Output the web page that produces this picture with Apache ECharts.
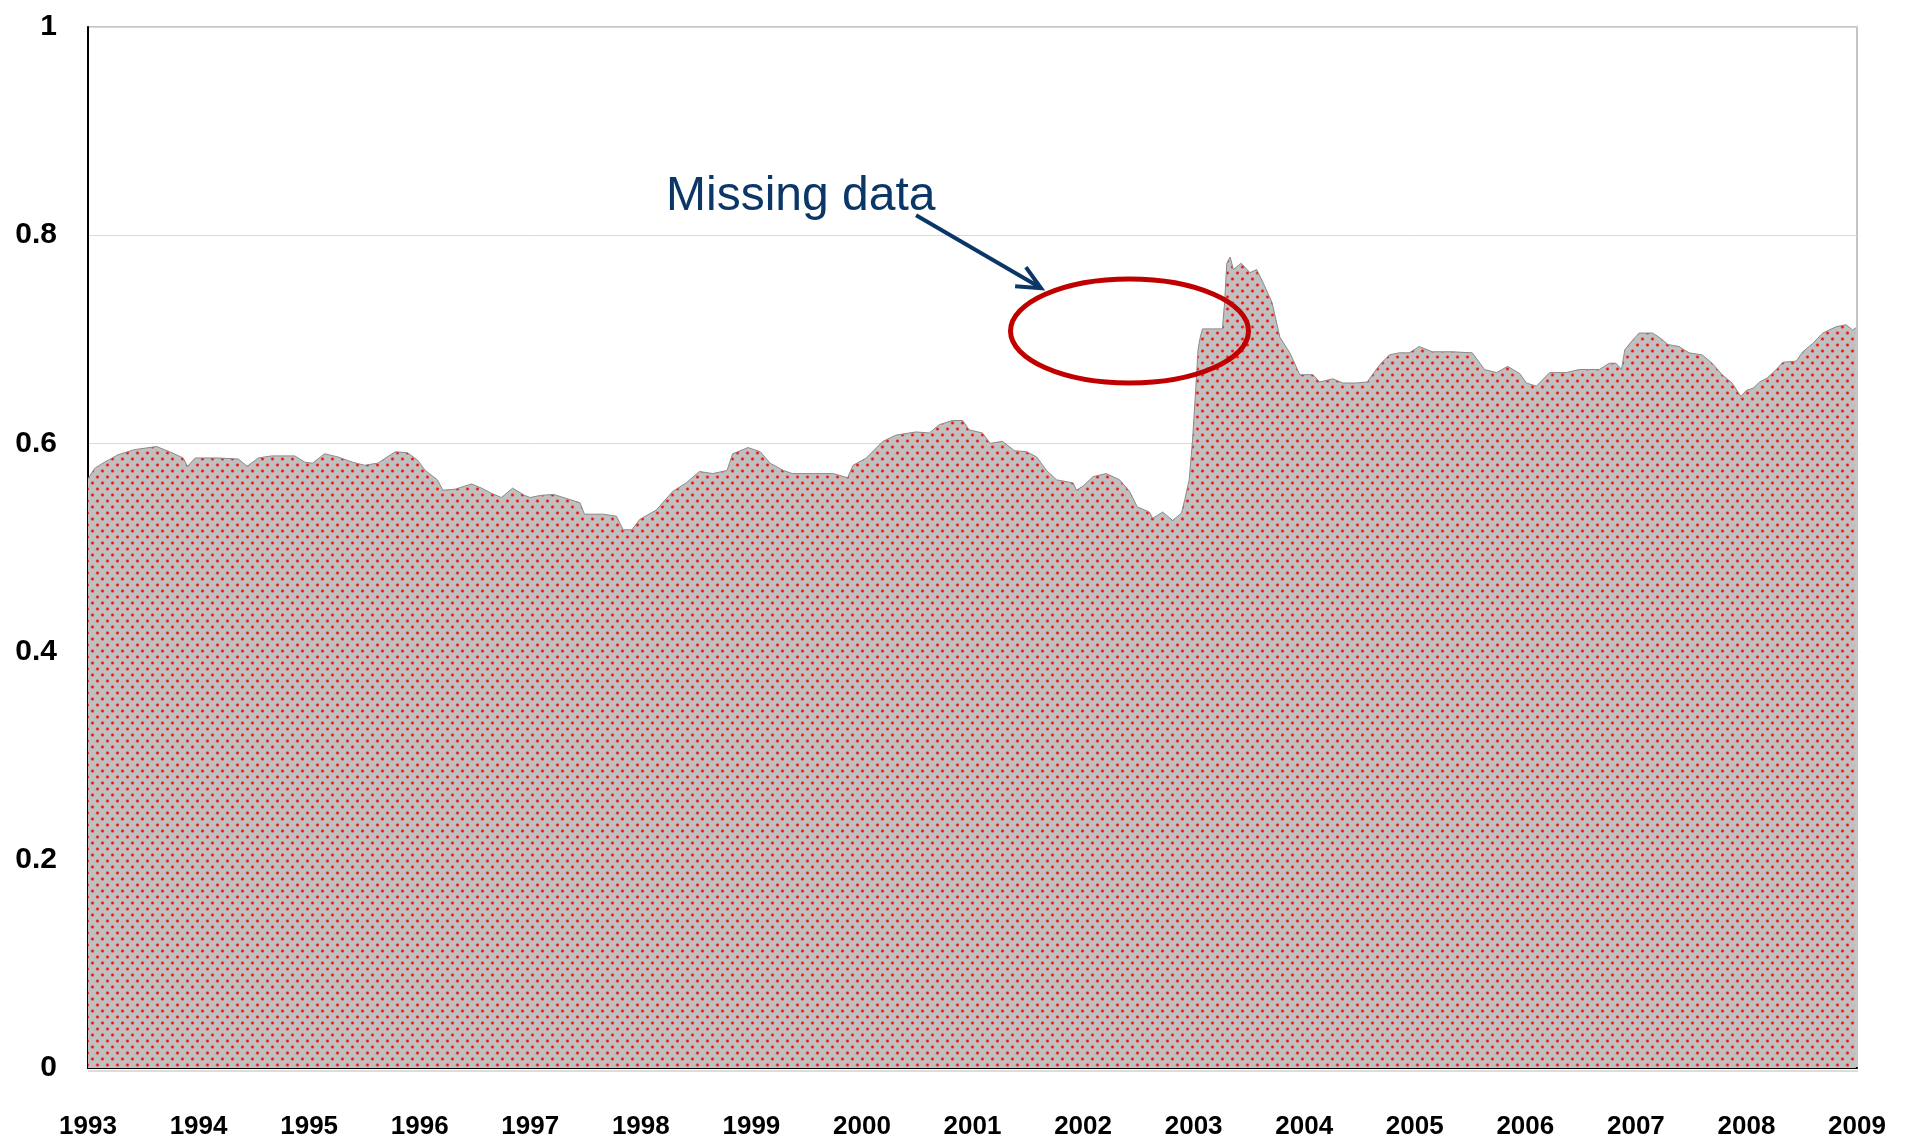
<!DOCTYPE html>
<html>
<head>
<meta charset="utf-8">
<script src="https://cdn.jsdelivr.net/npm/echarts@6/dist/echarts.min.js"></script>
<style>
  html, body { margin: 0; padding: 0; background: #fff; }
  #chart { width: 1907px; height: 1143px; }
</style>
</head>
<body>
<div id="chart"></div>
<script>
// time (decimal year) and value of the series
var years = [
  1993.00, 1993.06, 1993.15, 1993.27, 1993.42, 1993.62, 1993.76, 1993.86, 1993.90, 1993.97,
  1994.18, 1994.36, 1994.44, 1994.54, 1994.66, 1994.87, 1994.96, 1995.03, 1995.14, 1995.26,
  1995.39, 1995.50, 1995.62, 1995.78, 1995.89, 1995.98, 1996.05, 1996.16, 1996.21, 1996.32,
  1996.47, 1996.56, 1996.65, 1996.74, 1996.84, 1996.95, 1997.00, 1997.09, 1997.21, 1997.36,
  1997.45, 1997.49, 1997.66, 1997.78, 1997.84, 1997.92, 1997.99, 1998.14, 1998.29, 1998.41,
  1998.53, 1998.65, 1998.78, 1998.83, 1998.97, 1999.08, 1999.17, 1999.29, 1999.37, 1999.56,
  1999.74, 1999.87, 1999.92, 2000.04, 2000.19, 2000.31, 2000.49, 2000.61, 2000.70, 2000.82,
  2000.91, 2000.97, 2001.09, 2001.16, 2001.27, 2001.38, 2001.49, 2001.58, 2001.67, 2001.76,
  2001.91, 2001.94, 2002.00, 2002.09, 2002.21, 2002.33, 2002.42, 2002.49, 2002.60, 2002.63,
  2002.72, 2002.81, 2002.89, 2002.92, 2002.96, 2002.99, 2003.02, 2003.04, 2003.06, 2003.08,
  2003.26, 2003.28, 2003.30, 2003.33, 2003.36, 2003.43, 2003.51, 2003.57, 2003.63, 2003.71,
  2003.78, 2003.87, 2003.96, 2004.08, 2004.14, 2004.26, 2004.35, 2004.47, 2004.57, 2004.68,
  2004.77, 2004.86, 2004.95, 2005.04, 2005.16, 2005.34, 2005.52, 2005.59, 2005.63, 2005.74,
  2005.84, 2005.95, 2006.01, 2006.10, 2006.22, 2006.37, 2006.49, 2006.67, 2006.76, 2006.82,
  2006.87, 2006.90, 2006.97, 2007.03, 2007.15, 2007.21, 2007.29, 2007.39, 2007.48, 2007.60,
  2007.69, 2007.78, 2007.87, 2007.95, 2008.00, 2008.06, 2008.12, 2008.19, 2008.27, 2008.33,
  2008.45, 2008.51, 2008.60, 2008.69, 2008.81, 2008.90, 2008.96, 2008.99
];
var values = [
  0.566, 0.576, 0.582, 0.589, 0.594, 0.597, 0.591, 0.586, 0.578, 0.586,
  0.586, 0.585, 0.578, 0.586, 0.588, 0.588, 0.582, 0.581, 0.590, 0.587,
  0.582, 0.579, 0.581, 0.592, 0.591, 0.584, 0.574, 0.565, 0.555, 0.556,
  0.561, 0.557, 0.552, 0.548, 0.557, 0.550, 0.548, 0.550, 0.551, 0.546,
  0.543, 0.532, 0.532, 0.530, 0.517, 0.517, 0.527, 0.536, 0.554, 0.562,
  0.573, 0.571, 0.574, 0.590, 0.596, 0.592, 0.581, 0.574, 0.571, 0.571,
  0.571, 0.567, 0.579, 0.586, 0.602, 0.608, 0.611, 0.610, 0.618, 0.622,
  0.622, 0.613, 0.610, 0.600, 0.602, 0.593, 0.592, 0.587, 0.574, 0.565,
  0.562, 0.555, 0.559, 0.568, 0.571, 0.565, 0.554, 0.539, 0.534, 0.528,
  0.534, 0.526, 0.533, 0.546, 0.565, 0.603, 0.654, 0.690, 0.702, 0.710,
  0.710, 0.735, 0.773, 0.779, 0.767, 0.773, 0.764, 0.767, 0.754, 0.735,
  0.702, 0.687, 0.666, 0.666, 0.659, 0.662, 0.658, 0.658, 0.659, 0.675,
  0.685, 0.687, 0.687, 0.693, 0.688, 0.688, 0.687, 0.677, 0.671, 0.668,
  0.674, 0.667, 0.658, 0.655, 0.668, 0.668, 0.671, 0.671, 0.677, 0.677,
  0.671, 0.690, 0.699, 0.706, 0.706, 0.702, 0.695, 0.693, 0.687, 0.685,
  0.677, 0.666, 0.658, 0.645, 0.651, 0.653, 0.659, 0.663, 0.671, 0.678,
  0.679, 0.688, 0.696, 0.706, 0.712, 0.714, 0.709, 0.711
];
var annotationText = 'Missing data';

var seriesData = years.map(function (y, i) { return [y, values[i]]; });

// grey fill with small red dots
function dotPattern() {
  var c = document.createElement('canvas');
  c.width = 10;
  c.height = 12;
  var ctx = c.getContext('2d');
  ctx.fillStyle = '#c0c0c0';
  ctx.fillRect(0, 0, 10, 12);
  [[2.5, 3], [7.5, 9]].forEach(function (p) {
    ctx.fillStyle = '#e05858';
    ctx.beginPath();
    ctx.arc(p[0], p[1], 1.8, 0, Math.PI * 2);
    ctx.fill();
    ctx.fillStyle = '#ff0000';
    ctx.beginPath();
    ctx.arc(p[0], p[1], 1.0, 0, Math.PI * 2);
    ctx.fill();
  });
  return c;
}

var fontFamily = 'Liberation Sans, Arial, sans-serif';

var chart = echarts.init(document.getElementById('chart'));
chart.setOption({
  animation: false,
  backgroundColor: '#fff',
  grid: {
    left: 88,
    right: 50,
    top: 27,
    bottom: 75,
    show: true,
    borderColor: '#c4c4c4',
    borderWidth: 2
  },
  xAxis: {
    type: 'value',
    min: 1993,
    max: 2009,
    interval: 1,
    axisLine: { lineStyle: { color: '#000', width: 2 } },
    axisTick: { show: false },
    splitLine: { show: false },
    axisLabel: {
      margin: 46,
      color: '#000',
      fontFamily: fontFamily,
      fontWeight: 'bold',
      fontSize: 26,
      formatter: function (v) { return String(v); }
    }
  },
  yAxis: {
    type: 'value',
    min: 0,
    max: 1,
    interval: 0.2,
    axisLine: { show: true, lineStyle: { color: '#000', width: 2 } },
    axisTick: { show: false },
    splitLine: { lineStyle: { color: '#d9d9d9', width: 1 } },
    axisLabel: {
      margin: 31,
      padding: [0, 0, 12, 0],
      color: '#000',
      fontFamily: fontFamily,
      fontWeight: 'bold',
      fontSize: 30
    }
  },
  series: [
    {
      type: 'line',
      data: seriesData,
      symbol: 'none',
      lineStyle: { color: '#8a8a8a', width: 1 },
      areaStyle: {
        color: { image: dotPattern(), repeat: 'repeat' },
        opacity: 1
      }
    }
  ]
});

// annotation: text, arrow and ellipse, anchored in data space
var navy = '#0a3768';
var c = chart.convertToPixel({ gridIndex: 0 }, [2002.42, 0.708]);
var tip = chart.convertToPixel({ gridIndex: 0 }, [2001.62, 0.749]);
var tail = [tip[0] - 125, tip[1] - 73];
var ang = Math.atan2(tip[1] - tail[1], tip[0] - tail[0]);
function arm(off) {
  var a = ang + Math.PI + off;
  return [tip[0] + 26 * Math.cos(a), tip[1] + 26 * Math.sin(a)];
}
var x0 = chart.convertToPixel({ gridIndex: 0 }, [1993, 0]);
var x1 = chart.convertToPixel({ gridIndex: 0 }, [2009, 0]);

chart.setOption({
  graphic: [
    {
      type: 'line',
      shape: { x1: x0[0], y1: x0[1] + 3, x2: x1[0] + 1, y2: x1[1] + 3 },
      style: { stroke: '#dcdcdc', lineWidth: 2 },
      z: 1
    },
    {
      type: 'text',
      left: tail[0] - 250,
      top: tail[1] - 43,
      style: {
        text: annotationText,
        fill: navy,
        font: '48px "Liberation Sans", Arial, sans-serif'
      },
      z: 100
    },
    {
      type: 'line',
      shape: { x1: tail[0], y1: tail[1], x2: tip[0] - 3, y2: tip[1] - 2 },
      style: { stroke: navy, lineWidth: 4 },
      z: 100
    },
    {
      type: 'polyline',
      shape: { points: [arm(-0.45), tip, arm(0.42)] },
      style: { stroke: navy, lineWidth: 4, fill: null, lineJoin: 'miter' },
      z: 100
    },
    {
      type: 'ellipse',
      shape: { cx: c[0], cy: c[1], rx: 119, ry: 52 },
      style: { stroke: '#c00000', lineWidth: 5, fill: null },
      z: 100
    }
  ]
});
</script>
</body>
</html>
